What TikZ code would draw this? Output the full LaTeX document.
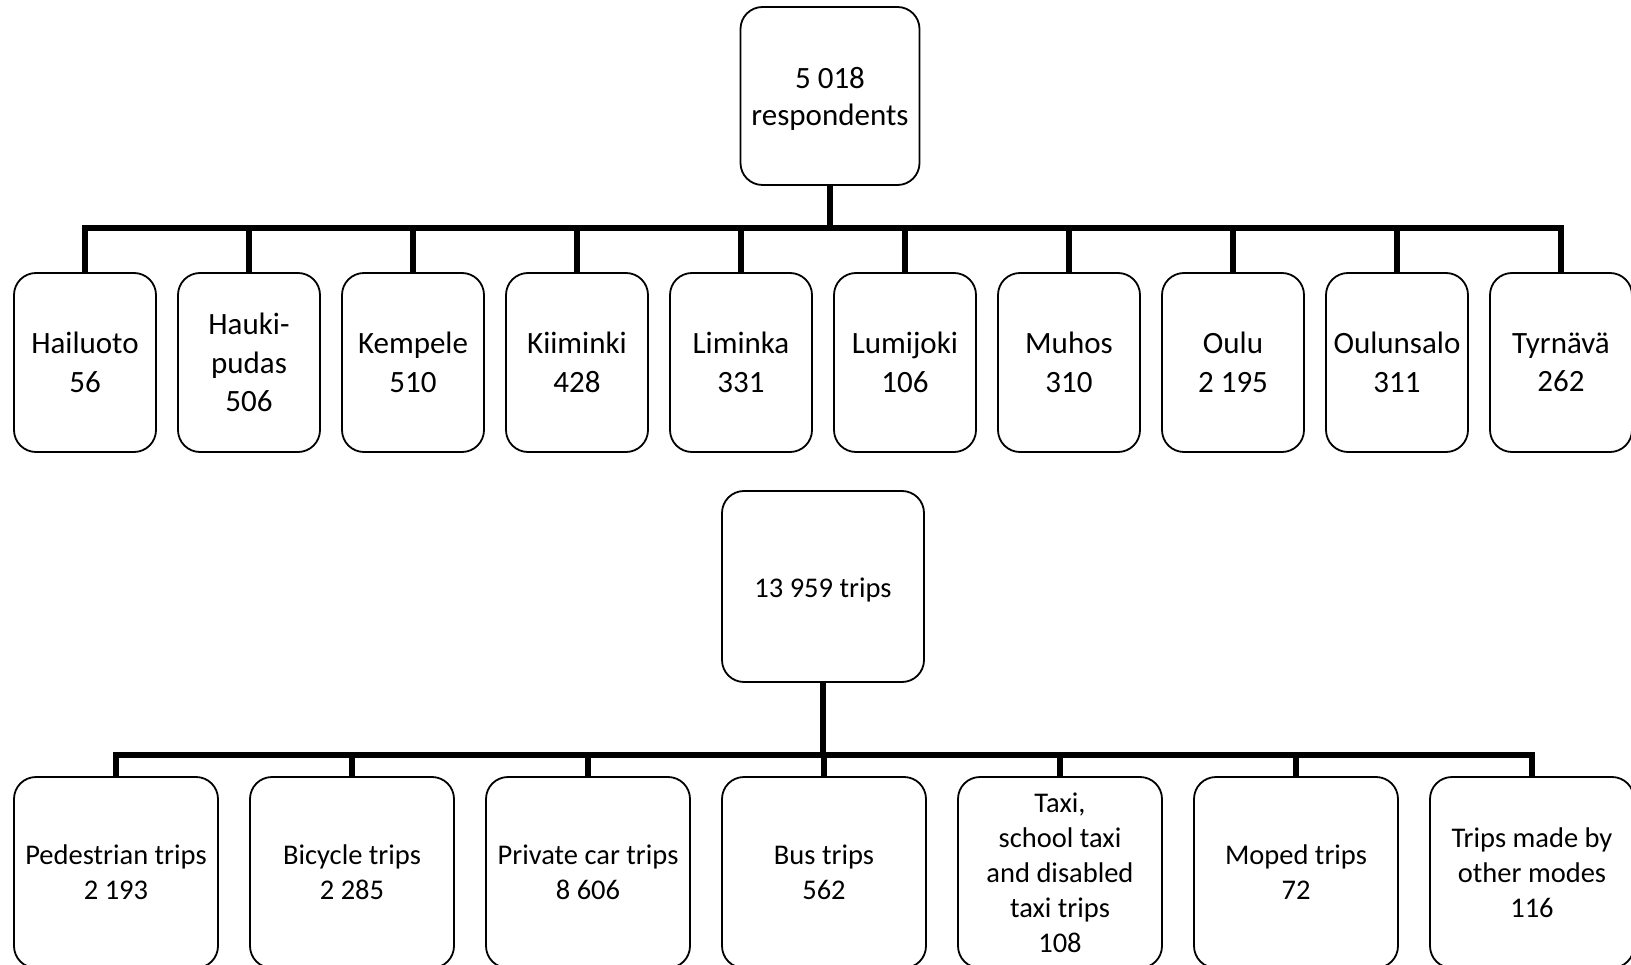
\documentclass[tikz,border=0pt]{standalone}
\usepackage{fontspec}
\setmainfont{Carlito}
\newcommand{\lowered}[1]{\raisebox{-3.5pt}[\height][\depth]{\begin{tabular}{@{}c@{}}#1\end{tabular}}}
\begin{document}
\begin{tikzpicture}[x=1pt,y=-1pt,
  box/.style={draw=black,line width=1.8pt,rounded corners=22pt,align=center,inner sep=1pt},
  topbox/.style={box,minimum width=142pt,minimum height=179pt,font=\fontsize{31}{38.5}\selectfont},
  headbox/.style={box,minimum width=179pt,minimum height=178pt,font=\fontsize{31}{37.4}\selectfont},
  tripbox/.style={box,minimum width=202pt,minimum height=191pt,font=\fontsize{28.5}{35}\selectfont},
  modebox/.style={box,minimum width=204pt,minimum height=191pt,font=\fontsize{28.5}{35}\selectfont},
  conn/.style={line width=6pt,line join=miter}]
\useasboundingbox (0,0) rectangle (1631,965);
\begin{scope}
\clip (0,0) rectangle (1631,965);
% top tree
\node[headbox] (resp) at (830,96) {\lowered{5 018\\respondents}};
\node[topbox] (h1) at (85,362.5) {Hailuoto\\56};
\node[topbox] (h2) at (249,362.5) {Hauki-\\pudas\\506};
\node[topbox] (h3) at (413,362.5) {Kempele\\510};
\node[topbox] (h4) at (577,362.5) {Kiiminki\\428};
\node[topbox] (h5) at (741,362.5) {Liminka\\331};
\node[topbox] (h6) at (905,362.5) {Lumijoki\\106};
\node[topbox] (h7) at (1069,362.5) {Muhos\\310};
\node[topbox] (h8) at (1233,362.5) {Oulu\\2 195};
\node[topbox] (h9) at (1397,362.5) {Oulunsalo\\311};
\node[topbox] (h10) at (1561,362.5) {Tyrnävä\\262};
\coordinate (bar1) at (830,228);
\draw[conn] (resp.south) -- (bar1);
\draw[conn] (h1.north) -- (h1.north |- bar1) -- (h10.north |- bar1) -- (h10.north);
\foreach \i in {2,...,9}{\draw[conn] (h\i.north) -- (h\i.north |- bar1);}
% bottom tree
\node[tripbox] (trips) at (823,586.5) {\lowered{13 959 trips}};
\node[modebox] (m1) at (116,872.5) {Pedestrian trips\\2 193};
\node[modebox] (m2) at (352,872.5) {Bicycle trips\\2 285};
\node[modebox] (m3) at (588,872.5) {Private car trips\\8 606};
\node[modebox] (m4) at (824,872.5) {Bus trips\\562};
\node[modebox] (m5) at (1060,872.5) {Taxi,\\school taxi\\and disabled\\taxi trips\\108};
\node[modebox] (m6) at (1296,872.5) {Moped trips\\72};
\node[modebox] (m7) at (1532,872.5) {Trips made by\\other modes\\116};
\coordinate (bar2) at (823,755);
\draw[conn] (trips.south) -- (bar2);
\draw[conn] (m1.north) -- (m1.north |- bar2) -- (m7.north |- bar2) -- (m7.north);
\foreach \i in {2,...,6}{\draw[conn] (m\i.north) -- (m\i.north |- bar2);}
\end{scope}
\end{tikzpicture}
\end{document}
